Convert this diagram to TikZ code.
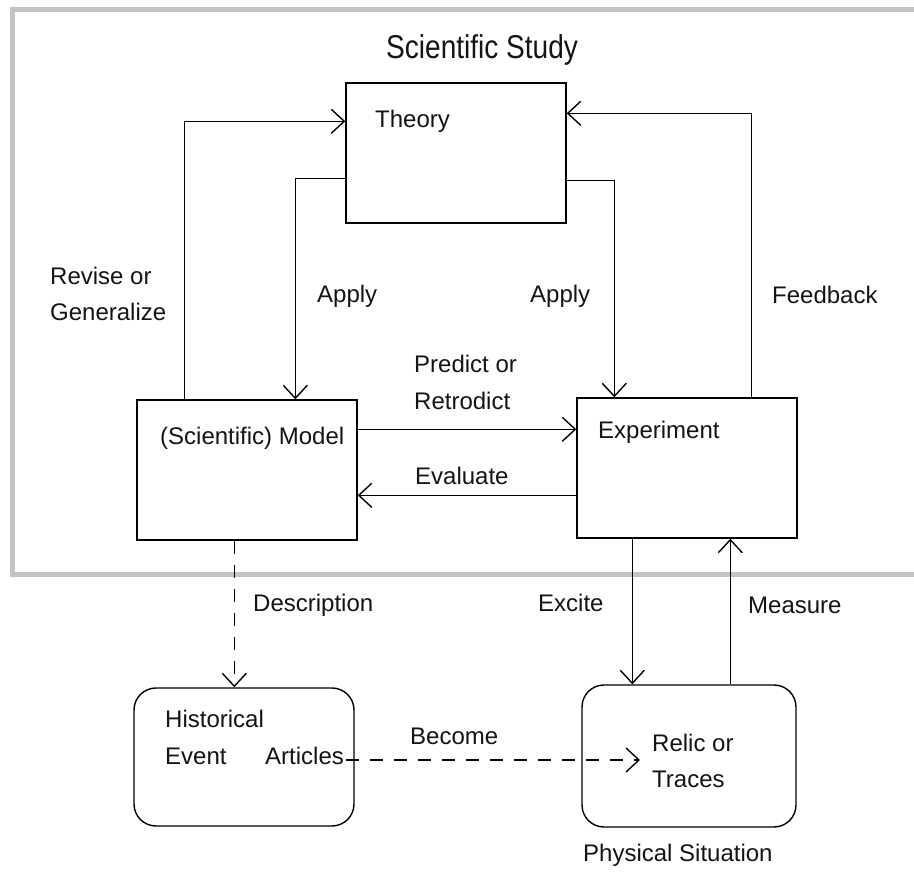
\documentclass[tikz,border=0pt]{standalone}
\usepackage{fontspec}
\setmainfont{Liberation Sans}
\usetikzlibrary{arrows.meta}
\definecolor{framegray}{RGB}{196,196,196}
\definecolor{inkgray}{RGB}{20,20,20}
\begin{document}
\begin{tikzpicture}[x=1pt,y=-1pt,
  box/.style={draw=black,line width=1.4pt,minimum width=220pt,minimum height=140pt,inner sep=0pt},
  rbox/.style={box,rounded corners=22pt},
  txt/.style={anchor=base west,inner sep=0pt,text=inkgray,font=\fontsize{24}{30}\selectfont},
  arr/.style={line width=1.4pt,-{Straight Barb[length=13pt,width=24pt,line width=1.4pt]}},
  dashline/.style={dash pattern=on 13pt off 11pt}
]
\clip (0,0) rectangle (914,874);
\fill[white] (0,0) rectangle (914,874);

% enclosing frame of the study
\draw[framegray,line width=5pt] (12,10) rectangle (940,575);

% boxes
\node[box] (theory) at (456,153) {};
\node[box] (model) at (247,470) {};
\node[box] (exper) at (687,468) {};
\node[rbox,minimum width=220pt,minimum height=138pt] (hist) at (244,757) {};
\node[rbox,minimum width=214pt,minimum height=142pt] (relic) at (689,756) {};

% box texts
\node[txt] (theorytxt) at (375,128) {Theory};
\node[txt] (modeltxt) at (160,445) {(Scientific) Model};
\node[txt] (expertxt) at (598,439) {Experiment};
\node[txt] (histtxt) at (165,727) {Historical};
\node[txt] (eventtxt) at (165,764) {Event};
\node[txt] (articles) at (265,764) {Articles};
\node[txt] (relictxt) at (652,751) {Relic or};
\node[txt] (tracestxt) at (652,787) {Traces};

% captions
\node[txt,font=\fontsize{33}{40}\selectfont] (title) at (386,59) {\scalebox{0.85}[1]{Scientific Study}};
\node[txt] (physical) at (583,861) {Physical Situation};

% connectors
\draw[arr] ([xshift=48pt]model.north west) |- ([yshift=-39pt]theory.north west);
\draw[arr] ([yshift=-96pt]theory.north west) -| ([xshift=159pt]model.north west);
\draw[arr] ([yshift=-98pt]theory.north east) -| ([xshift=38pt]exper.north west);
\draw[arr] ([xshift=175pt]exper.north west) |- ([yshift=-31pt]theory.north east);
\draw[arr] ([yshift=-30pt]model.north east) -- ([yshift=-32pt]exper.north west);
\draw[arr] ([yshift=-98pt]exper.north west) -- ([yshift=-96pt]model.north east);
\draw[arr,dashline] ([xshift=98pt]model.south west) -- ([xshift=101pt]hist.north west);
\draw[arr] ([xshift=56pt]exper.south west) -- ([xshift=51pt]relic.north west);
\draw[arr] ([xshift=149pt]relic.north west) -- ([xshift=154pt]exper.south west);
\coordinate (becomeEnd) at (640,760);
\draw[arr,dashline] ([xshift=2pt]articles.east |- becomeEnd) -- (becomeEnd);

% connector labels
\node[txt] (revise) at (50,285) {Revise or};
\node[txt] (generalize) at (50,321) {Generalize};
\node[txt] (applyL) at (317,303) {Apply};
\node[txt] (applyR) at (530,303) {Apply};
\node[txt] (feedback) at (772,304) {Feedback};
\node[txt] (predict) at (414,373) {Predict or};
\node[txt] (retrodict) at (414,410) {Retrodict};
\node[txt] (evaluate) at (415,485) {Evaluate};
\node[txt] (description) at (253,612) {Description};
\node[txt] (excite) at (538,612) {Excite};
\node[txt] (measure) at (748,613) {Measure};
\node[txt] (become) at (410,744) {Become};
\end{tikzpicture}
\end{document}
